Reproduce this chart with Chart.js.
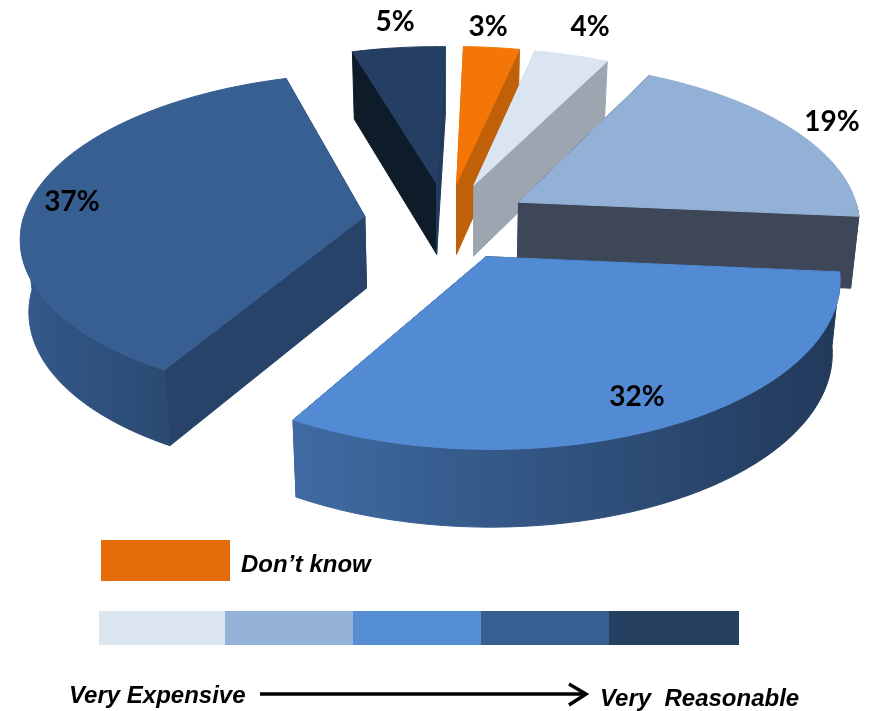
<!DOCTYPE html>
<html lang="en">
<head>
    <meta charset="UTF-8">
    <title>Very Expensive to Very Reasonable</title>
    <script src="https://cdn.jsdelivr.net/npm/chart.js"></script>
    <style>
        html, body { margin: 0; padding: 0; background: #fff; }
        #wrap { position: relative; width: 871px; height: 711px; overflow: hidden; }
        #pie { position: absolute; left: 0; top: 0; }
        .note { position: absolute; font: italic bold 24px "Liberation Sans", Arial, sans-serif; color: #000; white-space: pre; line-height: 26px; }
        #dontKnowBox { position: absolute; left: 101px; top: 540px; width: 129px; height: 41px; background: #E46C0A; }
        #scaleBar { position: absolute; left: 99px; top: 611px; width: 640px; height: 34px; display: flex; }
        #scaleBar div { flex: 0 0 128px; }
        #scaleBar div:first-child { flex-basis: 126px; }
        #scaleBar div:last-child { flex-basis: 130px; }
        #arrow { position: absolute; left: 0; top: 0; }
    </style>
</head>
<body>
    <div id="wrap">
        <canvas id="pie" width="871" height="711"></canvas>
        <div id="dontKnowBox"></div>
        <div class="note" style="left:241px; top:551px;">Don’t know</div>
        <div id="scaleBar"></div>
        <div class="note" style="left:69px; top:682px;">Very Expensive</div>
        <svg id="arrow" width="871" height="711">
            <line x1="260" y1="694" x2="586" y2="694" stroke="#000" stroke-width="3.5"></line>
            <polyline points="569,684 586,694 569,705" fill="none" stroke="#000" stroke-width="3.5"></polyline>
        </svg>
        <div class="note" style="left:600px; top:685px;">Very  Reasonable</div>
    </div>

    <script>
        // clockwise from the slice just left of 12 o'clock
        const categories = ['5%', '3%', '4%', '19%', '32%', '37%'];
        const shares = [5, 3, 4, 19, 32, 37];

        const topColors = ['#243F63', '#F37607', '#DBE5F1', '#93B0D6', '#528BD4', '#375F92'];
        const startWallColors = ['#0E1C2A', '#C4630A', '#9CA5B0', '#3D4758', '#27436A', '#27436A'];
        const endWallColors = ['#213A5E', '#C06008', '#9CA5B0', '#3D4758', '#27436A', '#27436A'];
        const rimLeftColors = ['#0E1C2A', '#C06008', '#9CA5B0', '#3D4758', '#3F6BA3', '#34598A'];
        const rimRightColors = ['#213A5E', '#C06008', '#9CA5B0', '#3D4758', '#22395A', '#2A4A72'];

        const scaleColors = ['#DCE6F1', '#95B3D7', '#558ED5', '#376092', '#254061'];

        // where each percentage is written
        const labelSpots = [[395, 22], [488, 27], [590, 27], [832, 122], [637, 397], [72, 202]];

        scaleColors.forEach(c => {
            let d = document.createElement('div');
            d.style.background = c;
            document.getElementById('scaleBar').appendChild(d);
        });

        // ground plane of the pie -> screen, unit circle = the pie radius
        const CX = 447, CY = 221, RX = 342, RY = 161, PERSP = 0.1175, DEPTH = 72, SHRINK = 0.98;

        function topPoint(u, v) {
            let w = 1 - PERSP * v;
            return { x: CX + RX * u / w, y: CY + RY * v / w };
        }

        function bottomPoint(u, v) {
            let w = 1 - PERSP * v;
            let p = topPoint(u, v);
            return { x: CX + (p.x - CX) * SHRINK, y: p.y + DEPTH / Math.sqrt(w) };
        }

        function fillPath(ctx, pts, fill) {
            ctx.beginPath();
            pts.forEach((p, i) => i ? ctx.lineTo(p.x, p.y) : ctx.moveTo(p.x, p.y));
            ctx.closePath();
            ctx.fillStyle = fill;
            ctx.fill();
            // closes the hairline between neighbouring faces
            ctx.strokeStyle = fill;
            ctx.lineWidth = 1;
            ctx.stroke();
        }

        function sliceGround(arc) {
            let mid = (arc.startAngle + arc.endAngle) / 2;
            let d = arc.options.offset / arc.outerRadius;
            let ou = Math.cos(mid) * d, ov = Math.sin(mid) * d;
            let rim = [];
            let steps = Math.max(4, Math.ceil((arc.endAngle - arc.startAngle) / 0.02));
            for (let i = 0; i <= steps; i++) {
                let a = arc.startAngle + (arc.endAngle - arc.startAngle) * i / steps;
                rim.push({ u: ou + Math.cos(a), v: ov + Math.sin(a), front: Math.sin(a) >= 0 });
            }
            return { apex: [ou, ov], rim: rim };
        }

        function drawSlice(ctx, arc, i) {
            let g = sliceGround(arc);
            let rimTop = g.rim.map(p => topPoint(p.u, p.v));
            let apexTop = topPoint(g.apex[0], g.apex[1]);
            let apexBottom = bottomPoint(g.apex[0], g.apex[1]);
            let first = g.rim[0], last = g.rim[g.rim.length - 1];

            // the two cut faces
            fillPath(ctx, [apexTop, rimTop[0], bottomPoint(first.u, first.v), apexBottom], startWallColors[i]);
            fillPath(ctx, [apexTop, rimTop[rimTop.length - 1], bottomPoint(last.u, last.v), apexBottom], endWallColors[i]);

            // outer rim, only the part turned towards the viewer, shaded left to right
            let front = g.rim.filter(p => p.front);
            if (front.length > 1) {
                let upper = front.map(p => topPoint(p.u, p.v));
                let lower = front.map(p => bottomPoint(p.u, p.v));
                let xs = upper.map(p => p.x);
                let shade = ctx.createLinearGradient(Math.min(...xs), 0, Math.max(...xs), 0);
                shade.addColorStop(0, rimLeftColors[i]);
                shade.addColorStop(1, rimRightColors[i]);
                fillPath(ctx, upper.concat(lower.reverse()), shade);
            }

            fillPath(ctx, [apexTop].concat(rimTop), arc.options.backgroundColor);
        }

        // replaces the flat arcs of the pie controller with tilted, extruded ones
        const tiltedPie = {
            id: 'tiltedPie',
            beforeDatasetDraw(chart, args) {
                let ctx = chart.ctx;
                let arcs = args.meta.data.map((arc, i) => ({ arc, i }));
                // far slices first
                arcs.sort((a, b) => {
                    let ma = (a.arc.startAngle + a.arc.endAngle) / 2;
                    let mb = (b.arc.startAngle + b.arc.endAngle) / 2;
                    return Math.sin(ma) - Math.sin(mb);
                });
                ctx.save();
                arcs.forEach(o => drawSlice(ctx, o.arc, o.i));
                ctx.restore();
                return false;
            },
            afterDatasetsDraw(chart) {
                let ctx = chart.ctx;
                ctx.save();
                ctx.font = 'bold 28px Lato, "Open Sans", sans-serif';
                ctx.fillStyle = '#000';
                ctx.textAlign = 'center';
                ctx.textBaseline = 'middle';
                categories.forEach((text, i) => ctx.fillText(text, labelSpots[i][0], labelSpots[i][1]));
                ctx.restore();
            }
        };

        new Chart(document.getElementById('pie').getContext('2d'), {
            type: 'pie',
            data: {
                labels: categories,
                datasets: [{
                    data: shares,
                    backgroundColor: topColors,
                    borderWidth: 0,
                    offset: 77
                }]
            },
            options: {
                responsive: false,
                animation: false,
                rotation: -16.5,
                events: [],
                plugins: { legend: { display: false }, tooltip: { enabled: false } }
            },
            plugins: [tiltedPie]
        });
    </script>
</body>
</html>
